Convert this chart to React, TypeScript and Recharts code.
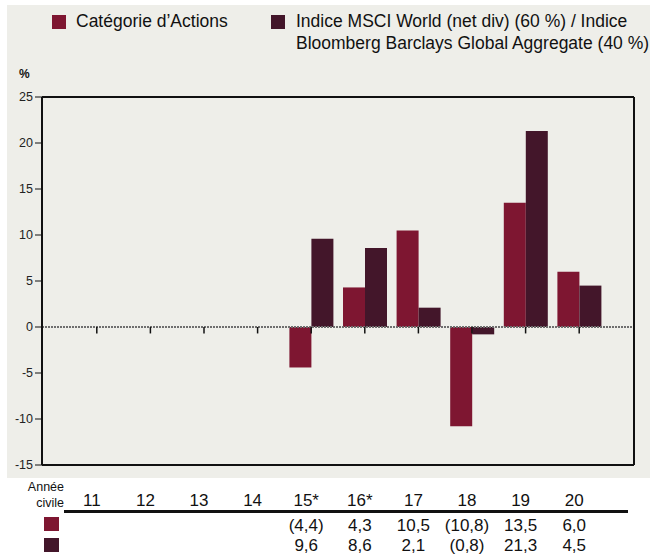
import React from "react";
import { BarChart, Bar, XAxis, YAxis, ReferenceLine } from "recharts";

const years = ["11", "12", "13", "14", "15", "16", "17", "18", "19", "20"];
const yearLabels = ["11", "12", "13", "14", "15*", "16*", "17", "18", "19", "20"];
const fund = [null, null, null, null, -4.4, 4.3, 10.5, -10.8, 13.5, 6.0];
const index = [null, null, null, null, 9.6, 8.6, 2.1, -0.8, 21.3, 4.5];
const yTicks = [-15, -10, -5, 0, 5, 10, 15, 20, 25];

const RED = "#7e1631";
const DARK = "#43162a";
const FONT = "'Liberation Sans', Arial, sans-serif";

const data = years.map((year, i) => ({ year, fund: fund[i], index: index[i] }));

// French format, negatives in brackets
const fmt = (v: number | null) => {
  if (v == null) return "";
  const s = Math.abs(v).toFixed(1).replace(".", ",");
  return v < 0 ? `(${s})` : s;
};

const TableTick = (props: any) => {
  const { x, y, index: i } = props;
  const cx = x - 5;
  const style = { fontSize: 17, fontFamily: FONT, fill: "#111" };
  return (
    <g>
      <text x={cx} y={y + 41} textAnchor="middle" {...style}>{yearLabels[i]}</text>
      <text x={cx} y={y + 66} textAnchor="middle" {...style}>{fmt(fund[i])}</text>
      <text x={cx} y={y + 86} textAnchor="middle" {...style}>{fmt(index[i])}</text>
    </g>
  );
};

const LegendBox = () => (
  <div style={{ position: "absolute", left: 0, top: 0, width: 650, height: 60, fontSize: 17.5, lineHeight: "22px", color: "#111" }}>
    <div style={{ position: "absolute", left: 52, top: 15, width: 14, height: 14, background: RED }} />
    <div style={{ position: "absolute", left: 76, top: 10, whiteSpace: "nowrap" }}>Catégorie d’Actions</div>
    <div style={{ position: "absolute", left: 271, top: 15, width: 14, height: 14, background: DARK }} />
    <div style={{ position: "absolute", left: 296, top: 10, whiteSpace: "nowrap" }}>
      Indice MSCI World (net div) (60 %) / Indice
      <br />
      Bloomberg Barclays Global Aggregate (40 %)
    </div>
  </div>
);

export default function App() {
  return (
    <div style={{ position: "absolute", left: 0, top: 0, width: 650, height: 555, background: "#fff", fontFamily: FONT }}>
      <div style={{ position: "absolute", left: 7, top: 5, width: 643, height: 473, background: "#eeeee9" }} />
      <LegendBox />
      <div style={{ position: "absolute", left: 19, top: 67, fontSize: 12, fontWeight: "bold", color: "#111" }}>%</div>
      <div style={{ position: "absolute", left: 0, top: 479, width: 64, textAlign: "right", fontSize: 12.5, lineHeight: "16px", color: "#111" }}>
        Année
        <br />
        civile
      </div>
      <div style={{ position: "absolute", left: 64, top: 510, width: 564, height: 3, background: "#111" }} />
      <div style={{ position: "absolute", left: 44, top: 517, width: 15, height: 14, background: RED }} />
      <div style={{ position: "absolute", left: 44, top: 538, width: 15, height: 14, background: DARK }} />
      <div style={{ position: "absolute", left: 0, top: 0 }}>
        <BarChart width={650} height={555} data={data} margin={{ top: 96, right: 15, bottom: 0, left: 0 }} barGap={0} barSize={22}>
          <XAxis
            dataKey="year"
            height={90}
            padding={{ left: 28, right: 28 }}
            axisLine={{ stroke: "#111", strokeWidth: 2 }}
            tickLine={false}
            tickSize={0}
            tickMargin={0}
            interval={0}
            tick={<TableTick />}
          />
          <XAxis xAxisId="t" dataKey="year" orientation="top" height={1} padding={{ left: 28, right: 28 }} tick={false} tickLine={false} axisLine={{ stroke: "#111", strokeWidth: 2 }} />
          <YAxis
            width={42}
            domain={[-15, 25]}
            ticks={yTicks}
            interval={0}
            tickSize={7}
            tickMargin={2}
            axisLine={{ stroke: "#111", strokeWidth: 2 }}
            tickLine={{ stroke: "#111" }}
            tick={{ fontSize: 12.5, fill: "#222", fontFamily: FONT }}
          />
          <YAxis yAxisId="r" orientation="right" width={1} domain={[-15, 25]} tick={false} tickLine={false} axisLine={{ stroke: "#111", strokeWidth: 2 }} />
          <ReferenceLine y={0} stroke="#6e6e6e" strokeWidth={2} strokeDasharray="2 1" />
          <Bar dataKey="fund" fill={RED} isAnimationActive={false} />
          <Bar dataKey="index" fill={DARK} isAnimationActive={false} />
          {years.map((yr) => (
            <ReferenceLine
              key={yr}
              segment={[{ x: yr, y: 0 }, { x: yr, y: -0.7 }]}
              stroke="#111"
              strokeWidth={1.5}
            />
          ))}
        </BarChart>
      </div>
    </div>
  );
}
